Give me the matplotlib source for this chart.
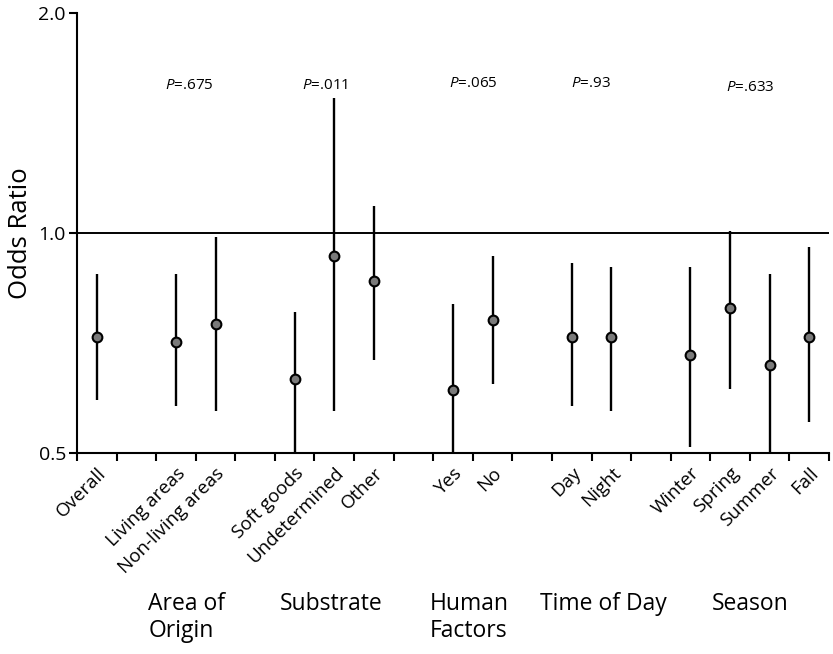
import matplotlib
matplotlib.use("Agg")
import matplotlib.pyplot as plt
import matplotlib.ticker as mticker
import matplotlib.transforms as mtransforms
import numpy as np

plt.rcParams['font.family'] = ['Open Sans', 'DejaVu Sans']
plt.rcParams['mathtext.fontset'] = 'custom'
plt.rcParams['mathtext.it'] = 'Open Sans:italic'
plt.rcParams['mathtext.rm'] = 'Open Sans'

# ---- data ----
categories = ["Overall", "Living areas", "Non-living areas", "Soft goods", "Undetermined",
              "Other", "Yes", "No", "Day", "Night", "Winter", "Spring", "Summer", "Fall"]
group_of = [0, 1, 1, 2, 2, 2, 3, 3, 4, 4, 5, 5, 5, 5]
odds = [0.720, 0.710, 0.750, 0.631, 0.930, 0.860, 0.610, 0.760, 0.720, 0.720,
        0.681, 0.790, 0.660, 0.720]
ci_low = [0.591, 0.580, 0.570, 0.500, 0.571, 0.670, 0.470, 0.621, 0.580, 0.570,
          0.510, 0.611, 0.490, 0.551]
ci_high = [0.879, 0.879, 0.988, 0.779, 1.528, 1.089, 0.800, 0.930, 0.909, 0.899,
           0.898, 1.007, 0.879, 0.958]
group_names = ["Area of\nOrigin", "Substrate", "Human\nFactors", "Time of Day", "Season"]
p_values = ["P=.675", "P=.011", "P=.065", "P=.93", "P=.633"]
y_ticks = [0.5, 1.0, 2.0]

# ---- positions: one empty slot between groups ----
pos = []
slot = 0
prev = group_of[0]
for g in group_of:
    if g != prev:
        slot += 1
        prev = g
    pos.append(slot + 0.5)
    slot += 1
pos = np.array(pos)
nslots = slot

fig = plt.figure(figsize=(8.33, 6.54), dpi=100)
ax = fig.add_axes([77/833, 1-453/654, (829-77)/833, (453-13)/654])

ax.set_yscale('log', base=2)
ax.set_ylim(0.5, 2.0)
ax.set_xlim(0, nslots)

ax.axhline(1.0, color='black', lw=1.4, zorder=1)

for x, o, lo, hi in zip(pos, odds, ci_low, ci_high):
    ax.plot([x, x], [lo, hi], color='black', lw=1.7, solid_capstyle='butt', zorder=2)
ax.plot(pos, odds, 'o', ms=7, mfc='#7a7a7a', mec='black', mew=1.5, zorder=3, clip_on=False)

for s in ['top', 'right']:
    ax.spines[s].set_visible(False)
for s in ['left', 'bottom']:
    ax.spines[s].set_linewidth(1.5)

ax.yaxis.set_major_locator(mticker.FixedLocator(y_ticks))
ax.yaxis.set_major_formatter(mticker.FixedFormatter([f"{v:.1f}" for v in y_ticks]))
ax.yaxis.set_minor_locator(mticker.NullLocator())
ax.tick_params(axis='y', which='major', length=6, width=1.5, labelsize=14, pad=2)

ax.set_xticks(np.arange(0, nslots + 1))
ax.set_xticklabels([])
ax.set_xticks(pos, minor=True)
ax.set_xticklabels(categories, minor=True, rotation=45, ha='right',
                   rotation_mode='anchor', fontsize=13.5)
ax.tick_params(axis='x', which='major', length=6, width=1.5)
ax.tick_params(axis='x', which='minor', length=0, pad=8)

ax.set_ylabel("Odds Ratio", fontsize=18.5, labelpad=4)

# group labels and p-values
trans = mtransforms.blended_transform_factory(ax.transData, ax.transAxes)
group_label_x = [1.8, 5.13, 8.91, 11.69, 16.04]
p_x = [2.83, 6.26, 10.0, 12.98, 17.0]
p_y = [1.59, 1.59, 1.60, 1.60, 1.58]
for gx, name in zip(group_label_x, group_names):
    ax.text(gx, -0.315, name, transform=trans, ha='left', va='top',
            fontsize=16.5, linespacing=1.2)
for px, py, txt in zip(p_x, p_y, p_values):
    label = "$P$" + txt[1:]
    ax.text(px, py, label, ha='center', va='center', fontsize=11)

fig.savefig("out.png", dpi=100)
